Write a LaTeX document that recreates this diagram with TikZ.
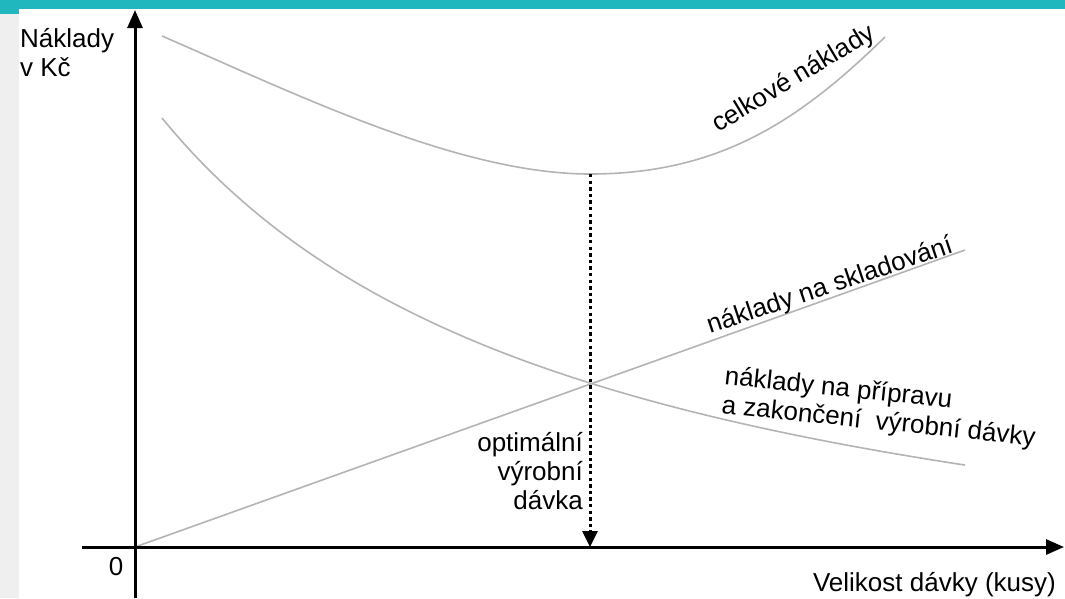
\documentclass[tikz,border=0pt]{standalone}
\usepackage{fontspec}
\setmainfont{Liberation Sans}
\usetikzlibrary{arrows.meta}
\definecolor{bandteal}{HTML}{20B8BE}
\definecolor{stripgray}{HTML}{EFEFEF}
\definecolor{curvegray}{HTML}{B4B4B4}
\tikzset{
  axis/.style={line width=3pt, -{Triangle[length=18pt,width=15pt]}},
  curve/.style={curvegray, line width=1.6pt},
  optline/.style={line width=3pt, dash pattern=on 3.4pt off 3.2pt,
                  -{Triangle[length=16pt,width=15pt]}},
  lbl/.style={inner sep=0pt, font=\fontsize{26}{29}\selectfont},
}
\begin{document}
\begin{tikzpicture}[x=1pt,y=-1pt]
  \useasboundingbox (0,0) rectangle (1065,598);
  % frame decoration
  \fill[white] (0,0) rectangle (1065,598);
  \fill[stripgray] (0,14) rectangle (19,598);
  \fill[bandteal] (0,0) rectangle (1065,9);
  \fill[bandteal] (0,0) rectangle (19,14);

  % key points
  \coordinate (o) at (135,547);
  \coordinate (ybot) at (135,598);
  \coordinate (ytip) at (135,10);
  \coordinate (xleft) at (82,547);
  \coordinate (xtip) at (1064,547);
  \coordinate (tstart) at (162,36);
  \coordinate (tmin) at (590,174);
  \coordinate (tend) at (885,37);
  \coordinate (send) at (965,250);
  \coordinate (xfoot) at (590,547);

  % total costs
  \draw[curve] (tstart) .. controls (300,96) and (460,174) .. (tmin)
                        .. controls (720,174) and (800,120) .. (tend);
  % storage costs
  \draw[curve] (o) -- (send);
  % set-up costs, falling hyperbola
  \draw[curve] plot[domain=162:965, samples=80]
     (\x, {654.5 - 235.187/((\x+276.4)/1000)});

  % axes
  \draw[axis] (ybot) -- (ytip);
  \draw[axis] (xleft) -- (xtip);

  % optimum
  \draw[optline] (tmin) -- (xfoot);

  % labels
  \node[lbl, anchor=north west, align=left] (ylab) at (20,28) {Náklady\\v Kč};
  \node[lbl, anchor=base] (zero) at (116,575) {0};
  \node[lbl, anchor=base east] (xlab) at (1056,591) {Velikost dávky (kusy)};
  \node[lbl, anchor=base west, rotate=31] (ltotal) at (718,133) {celkové náklady};
  \node[lbl, anchor=base west, rotate=18.5] (lstore) at (710,334) {náklady na skladování};
  \node[lbl, anchor=north west, align=left, rotate=-6] (lprep) at (726,365)
     {náklady na přípravu\\a zakončení\ \ výrobní dávky};
  \node[lbl, anchor=north east, align=right] (lopt) at (583,432)
     {optimální\\výrobní\\dávka};
\end{tikzpicture}
\end{document}
